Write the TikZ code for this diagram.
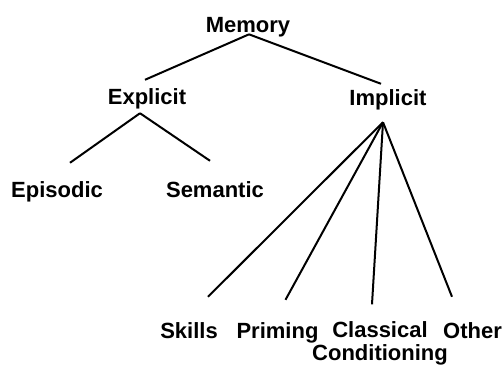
\documentclass[tikz,border=0pt]{standalone}
\usepackage{fontspec}
\setmainfont{Liberation Sans}
\usetikzlibrary{calc}

\tikzset{
    term/.style={inner sep=0pt, font=\fontsize{16.5}{17}\selectfont\bfseries},
    branch/.style={line width=1.5pt}
}

\begin{document}
\begin{tikzpicture}[x=0.75pt,y=0.75pt,yscale=-1,xscale=1]
    \useasboundingbox (0,0) rectangle (504,366);

    % Text Node
    \node [term, anchor=base] (memory) at (248,32.5) {Memory};
    % Text Node
    \node [term, anchor=base] (explicit) at (147,105) {Explicit};
    % Text Node
    \node [term, anchor=base] (implicit) at (388,106) {Implicit};
    % Text Node
    \node [term, anchor=base] (episodic) at (57,198) {Episodic};
    % Text Node
    \node [term, anchor=base] (semantic) at (215,198) {Semantic};
    % Text Node
    \node [term, anchor=base] (skills) at (189,339) {Skills};
    % Text Node
    \node [term, anchor=base] (priming) at (277.5,339) {Priming};
    % Text Node
    \node [term, anchor=north, align=center] (classical) at (380,321.3) {Classical\\Conditioning};
    % Text Node
    \node [term, anchor=base] (other) at (472.5,339) {Other};

    % fork points
    \coordinate (memfork) at ($(memory.south)+(1,-3)$);
    \coordinate (explfork) at ($(explicit.south)+(-7,3.4)$);
    \coordinate (implfork) at ($(implicit.south)+(-5,11.4)$);

    %Straight Lines
    \draw [branch] (memfork) -- ($(explicit.north)+(-2,-9)$);
    \draw [branch] (memfork) -- ($(implicit.north)+(-7,-6)$);
    %Straight Lines
    \draw [branch] (explfork) -- ($(episodic.north)+(13,-19)$);
    \draw [branch] (explfork) -- ($(semantic.north)+(-5,-21)$);
    %Straight Lines
    \draw [branch] (implfork) -- ($(skills.north)+(19,-26)$);
    \draw [branch] (implfork) -- ($(priming.north)+(8,-23)$);
    \draw [branch] (implfork) -- ($(classical.north)+(-8,-17)$);
    \draw [branch] (implfork) -- ($(other.north)+(-20.5,-26)$);

\end{tikzpicture}
\end{document}
